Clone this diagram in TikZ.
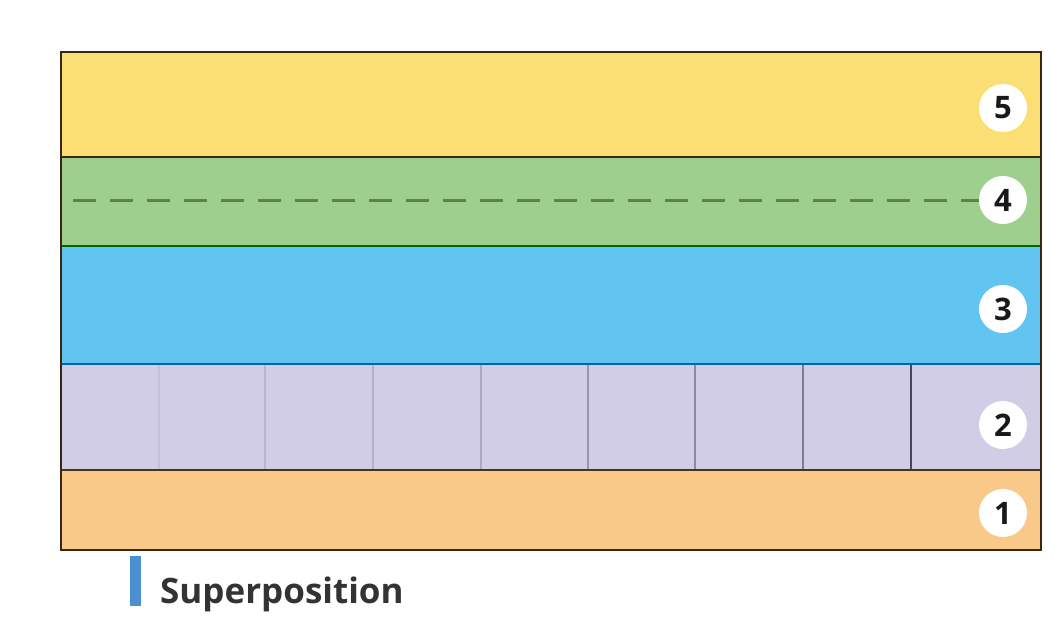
\documentclass[tikz,border=0pt]{standalone}
\usepackage{fontspec}
\setmainfont{Open Sans}
\begin{document}
\begin{tikzpicture}[x=1pt,y=-1pt,
  layer/.style={draw=black!70!brown, line width=1.8pt},
  numcirc/.style={circle, fill=white, minimum size=48pt, inner sep=0pt, font=\fontsize{31}{33}\selectfont\bfseries, text=black!90},
  cell/.style={draw=#1, line width=1.2pt}]
\useasboundingbox (0,0) rectangle (1054,618);
\definecolor{cyel}{HTML}{FCDF74}
\definecolor{cgrn}{HTML}{9FCF8F}
\definecolor{cblu}{HTML}{62C4F0}
\definecolor{cpur}{HTML}{D1CDE6}
\definecolor{corg}{HTML}{F9C98A}
\definecolor{cbar}{HTML}{4A90D0}
\definecolor{cdash}{HTML}{5A844C}
\definecolor{cline}{HTML}{4A4A66}
% layers
\fill[cyel] (61,52) rectangle (1041,157);
\fill[cgrn] (61,157) rectangle (1041,246);
\fill[cblu] (61,246) rectangle (1041,364);
\fill[cpur] (61,364) rectangle (1041,470);
\fill[corg] (61,470) rectangle (1041,550);
% purple cells
\foreach \xx/\cc in {159/10, 265/18, 373/22, 481/28, 588/42, 695/52, 803/62} {
  \draw[cell=cline!\cc!cpur] (\xx,364) -- (\xx,470);
}
\draw[line width=1.8pt, draw=cline!95!black] (911,364) -- (911,470);
% dashed line
\coordinate (dl) at (73,200);
\node[numcirc] (n5) at (1003,108) {5};
\node[numcirc] (n4) at (1003,200) {4};
\node[numcirc] (n3) at (1003,309) {3};
\node[numcirc] (n2) at (1003,425) {2};
\node[numcirc] (n1) at (1003,513) {1};
\draw[draw=cdash, line width=3pt, dash pattern=on 23pt off 14pt] (dl) -- (n4.west);
% borders
\draw[layer] (61,157) -- (1041,157);
\draw[layer, draw=black!60!green] (61,246) -- (1041,246);
\draw[layer, draw=black!60!blue!60!cyan] (61,364) -- (1041,364);
\draw[layer, draw=black!60!brown] (61,470) -- (1041,470);
\draw[layer] (61,52) rectangle (1041,550);
% legend
\fill[cbar] (130,556) rectangle (141,606);
\node[anchor=base west, inner sep=0pt, font=\fontsize{35}{37}\selectfont\bfseries, text=black!80] (leg) at (160,603) {Superposition};
\end{tikzpicture}
\end{document}
